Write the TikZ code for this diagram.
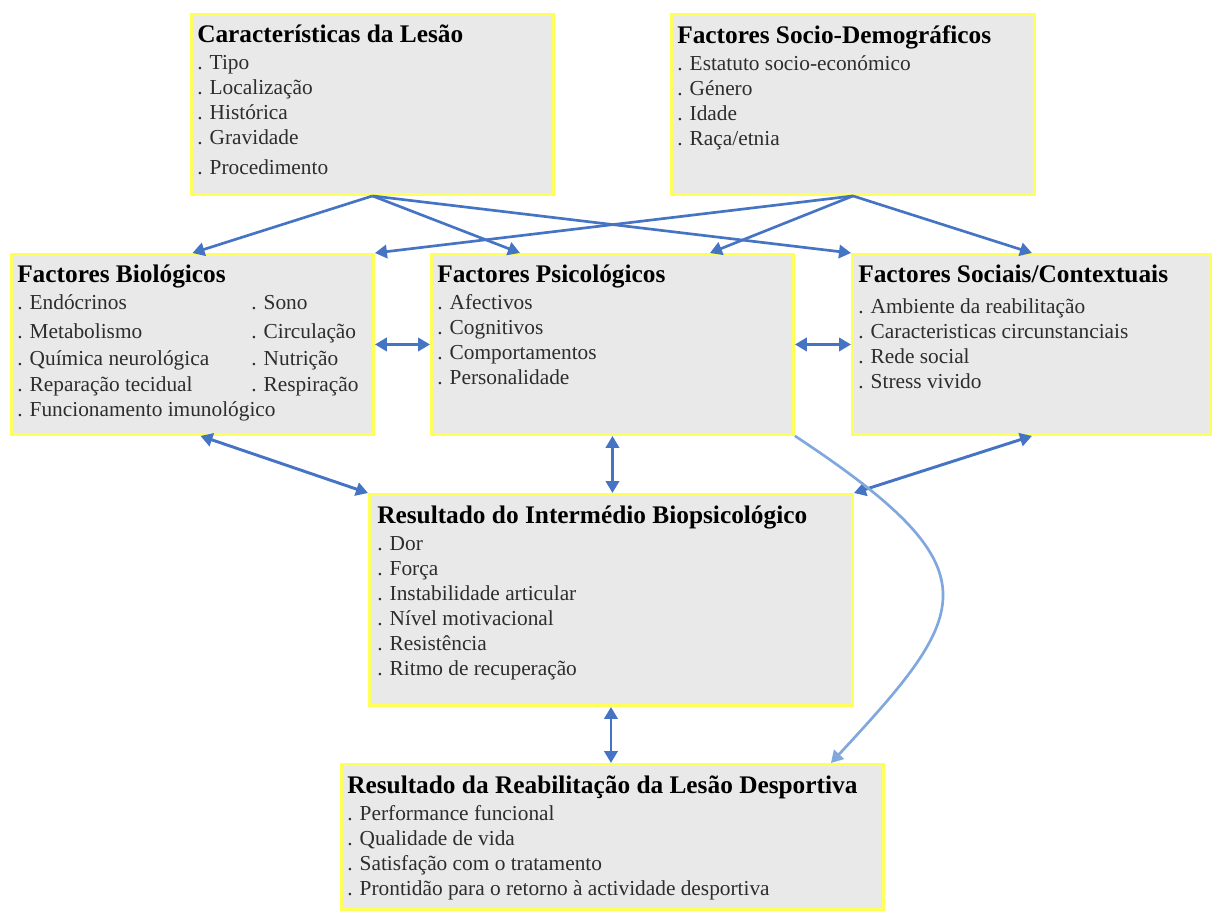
\documentclass[tikz,border=0pt]{standalone}
\usepackage{fontspec}
\setmainfont{Liberation Serif}
\usetikzlibrary{arrows.meta}

\definecolor{amarelo}{RGB}{255,255,90}
\definecolor{cinza}{RGB}{233,233,233}
\definecolor{azul}{RGB}{70,116,196}
\definecolor{azulclaro}{RGB}{128,168,222}
\definecolor{textocinza}{RGB}{45,45,45}

\newcommand{\titulo}[1]{\leavevmode{\fontsize{19}{18.75}\selectfont\bfseries\color{black}#1}}

\begin{document}
\begin{tikzpicture}[x=0.75pt,y=-0.75pt,
    caixa/.style 2 args={draw=amarelo, line width=2.2pt, fill=cinza, anchor=north west,
      inner sep=0pt, minimum width=#1*0.75pt, minimum height=#2*0.75pt},
    texto/.style={anchor=base west, inner sep=0pt, text=textocinza,
      font=\fontsize{16}{18.75}\selectfont},
    seta/.style={draw=azul, line width=2pt, -{Triangle[length=9pt,width=10pt]}},
    dupla/.style={draw=azul, line width=2.2pt,
      {Triangle[length=9pt,width=10pt]}-{Triangle[length=9pt,width=10pt]}},
    curva/.style={draw=azulclaro, line width=2pt, -{Triangle[length=9pt,width=10pt]}}]
  \useasboundingbox[fill=white] (0,0) rectangle (1212,911);

  % caixas
  \node[caixa={362}{180}] (lesao) at (190,13) {};
  \node[caixa={363}{180}] (socio) at (670,13) {};
  \node[caixa={362}{180}] (bio) at (10,253) {};
  \node[caixa={362}{180}] (psi) at (430,253) {};
  \node[caixa={359}{180}] (social) at (851,253) {};
  \node[caixa={483}{211}] (inter) at (368,493) {};
  \node[caixa={542}{145}] (reab) at (340,763) {};

  % textos
  \node[texto] (lesaotxt) at (197,42) {\parbox[t]{330pt}{\titulo{Características da Lesão}\\[1.5pt]
    . Tipo\\ . Localização\\ . Histórica\\ . Gravidade\\[3.75pt] . Procedimento}};
  \node[texto] (sociotxt) at (677,43) {\parbox[t]{330pt}{\titulo{Factores Socio-Demográficos}\\[1.5pt]
    . Estatuto socio-económico\\ . Género\\ . Idade\\ . Raça/etnia}};
  \node[texto] (biotxt) at (17,282) {\parbox[t]{330pt}{\titulo{Factores Biológicos}\\[1.5pt]
    . Endócrinos\\[3pt] . Metabolismo\\[1.5pt] . Química neurológica\\[0.75pt]
    . Reparação tecidual\\ . Funcionamento imunológico}};
  \node[texto] (biotxtb) at (251,309) {\parbox[t]{120pt}{. Sono\\[3pt] . Circulação\\[1.5pt]
    . Nutrição\\[0.75pt] . Respiração}};
  \node[texto] (psitxt) at (437,282) {\parbox[t]{330pt}{\titulo{Factores Psicológicos}\\[1.5pt]
    . Afectivos\\ . Cognitivos\\ . Comportamentos\\ . Personalidade}};
  \node[texto] (socialtxt) at (858,282) {\parbox[t]{330pt}{\titulo{Factores Sociais/Contextuais}\\[4.5pt]
    . Ambiente da reabilitação\\ . Caracteristicas circunstanciais\\ . Rede social\\ . Stress vivido}};
  \node[texto] (intertxt) at (377,523) {\parbox[t]{330pt}{\titulo{Resultado do Intermédio Biopsicológico}\\[1.5pt]
    . Dor\\ . Força\\ . Instabilidade articular\\ . Nível motivacional\\ . Resistência\\ . Ritmo de recuperação}};
  \node[texto] (reabtxt) at (347,793) {\parbox[t]{400pt}{\titulo{Resultado da Reabilitação da Lesão Desportiva}\\[1.5pt]
    . Performance funcional\\ . Qualidade de vida\\ . Satisfação com o tratamento\\
    . Prontidão para o retorno à actividade desportiva}};

  % setas
  \draw[seta] (lesao.south) -- (bio.north);
  \draw[seta] (lesao.south) -- ([xshift=67.5pt]psi.north west);
  \draw[seta] (lesao.south) -- (social.north west);
  \draw[seta] (socio.south) -- (bio.north east);
  \draw[seta] (socio.south) -- ([xshift=-63.75pt]psi.north east);
  \draw[seta] (socio.south) -- (social.north);
  \draw[dupla] (bio.east) -- (psi.west);
  \draw[dupla] (psi.east) -- (social.west);
  \draw[dupla] ([xshift=6pt]bio.south) -- (inter.north west);
  \draw[dupla] (psi.south) -- (psi.south |- inter.north);
  \draw[dupla] (social.south) -- (inter.north east);
  \draw[dupla] (inter.south) -- (inter.south |- reab.north);
  \draw[curva] (psi.south east) .. controls (998,570) and (972,611) .. ([xshift=-40.5pt]reab.north east);
\end{tikzpicture}
\end{document}
